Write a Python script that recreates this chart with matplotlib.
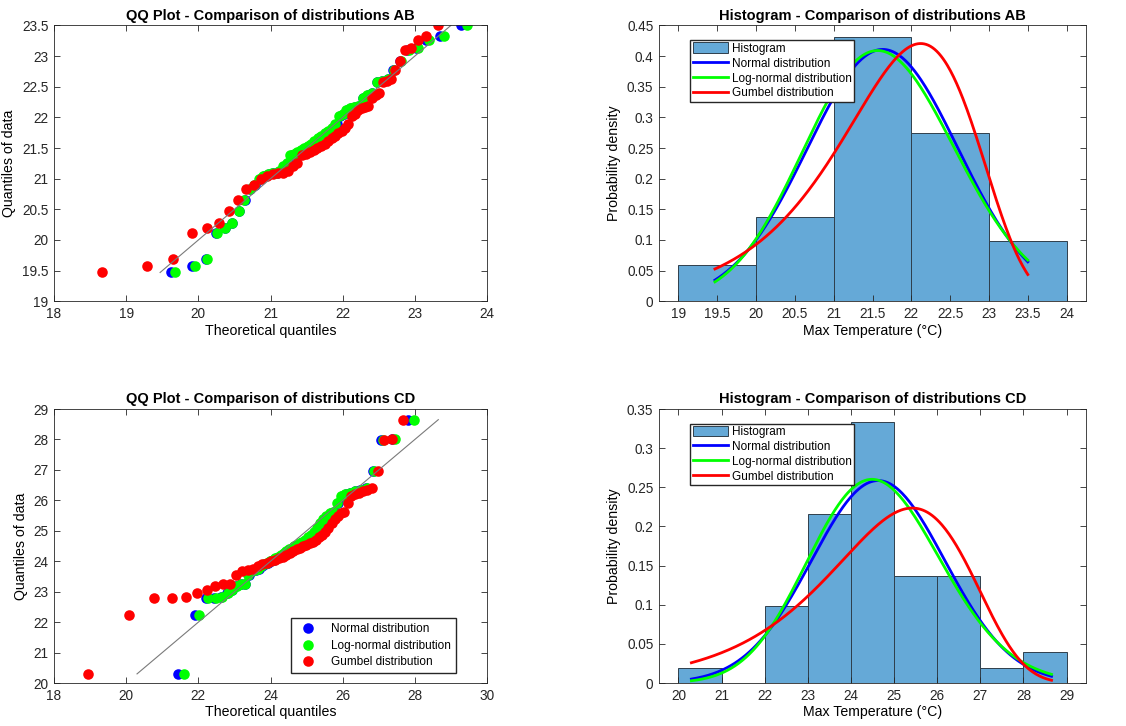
import math
import numpy as np
import matplotlib
matplotlib.use('Agg')
import matplotlib.pyplot as plt

plt.rcParams['font.family'] = ['Liberation Sans', 'DejaVu Sans']

# Max temperatures (sorted)
temp_ab = [19.47, 19.58, 19.69,
           20.11, 20.20, 20.28, 20.48, 20.66, 20.83, 20.90,
           21.00, 21.04, 21.07, 21.09, 21.10, 21.12, 21.20, 21.25, 21.38, 21.40, 21.43,
           21.46, 21.50, 21.53, 21.57, 21.62, 21.66, 21.70, 21.74, 21.78, 21.83, 21.90,
           22.03, 22.05, 22.12, 22.15, 22.17, 22.18, 22.32, 22.36, 22.40, 22.57, 22.60,
           22.63, 22.78, 22.92,
           23.10, 23.13, 23.27, 23.32, 23.50]
temp_cd = [20.30,
           22.23, 22.78, 22.80, 22.82, 22.95,
           23.04, 23.18, 23.25, 23.26, 23.55, 23.68, 23.72, 23.73, 23.85, 23.90, 23.95,
           24.00, 24.05, 24.10, 24.15, 24.20, 24.28, 24.35, 24.40, 24.45, 24.50, 24.55,
           24.60, 24.62, 24.70, 24.80, 24.85, 24.95,
           25.10, 25.25, 25.40, 25.50, 25.60, 25.62, 25.90,
           26.15, 26.20, 26.25, 26.30, 26.35, 26.40, 26.95,
           27.97,
           28.02, 28.65]

# histogram bin edges
edges_ab = [19, 20, 21, 22, 23, 24]
edges_cd = [20, 21, 22, 23, 24, 25, 26, 27, 28, 29]

# Gumbel (minimum extreme value) parameters: location, scale
gumbel_ab = (22.12, 0.875)
gumbel_cd = (25.42, 1.646)

names = ['Normal distribution', 'Log-normal distribution', 'Gumbel distribution']
colors = ['#0000ff', '#00ff00', '#ff0000']
hist_color = '#65a9d7'
dark = '#262626'


def norm_cdf(z):
    return np.array([0.5 * (1 + math.erf(v / math.sqrt(2))) for v in np.atleast_1d(z)])


_zg = np.linspace(-8, 8, 20001)
_cg = norm_cdf(_zg)


def norm_ppf(p):
    return np.interp(p, _cg, _zg)


def norm_pdf(x, mu, s):
    return np.exp(-0.5 * ((x - mu) / s) ** 2) / (s * np.sqrt(2 * np.pi))


def fits(data, gum):
    d = np.array(data)
    mu, s = d.mean(), d.std(ddof=1)
    lmu, ls = np.log(d).mean(), np.log(d).std(ddof=1)
    return mu, s, lmu, ls, gum


def qq(ax, data, gum, title, yticks, xlim, ylim, legend=False):
    d = np.sort(np.array(data))
    n = len(d)
    p = np.arange(1, n + 1) / (n + 1)
    mu, s, lmu, ls, (gl, gs) = fits(d, gum)
    z = norm_ppf(p)
    theo = [mu + s * z, np.exp(lmu + ls * z), gl + gs * np.log(-np.log(1 - p))]
    for t, c, nm in zip(theo, colors, names):
        ax.plot(t, d, 'o', color=c, markersize=7.6, markeredgewidth=0, label=nm)
    ax.plot([d[0], d[-1]], [d[0], d[-1]], color='#7a7a7a', lw=0.8)
    ax.set_xlim(xlim)
    ax.set_ylim(ylim)
    ax.set_yticks(yticks)
    ax.set_yticklabels(['%g' % v for v in yticks])
    ax.set_title(title, fontsize=10.5, fontweight='bold', pad=4)
    ax.set_xlabel('Theoretical quantiles', fontsize=10.2, labelpad=2)
    ax.set_ylabel('Quantiles of data', fontsize=10.2, labelpad=4)
    if legend:
        ax.legend(loc='lower right', bbox_to_anchor=(0.928, 0.036), fontsize=8.5,
                  fancybox=False, edgecolor=dark, framealpha=1, borderpad=0.4,
                  labelspacing=0.4, handletextpad=1.0, handlelength=2.0,
                  borderaxespad=0)


def hist(ax, data, edges, gum, title, xlim, ylim, yticks):
    d = np.array(data)
    ax.hist(d, bins=edges, density=True, color=hist_color, edgecolor='#2f3f4c',
            linewidth=0.7, label='Histogram')
    mu, s, lmu, ls, (gl, gs) = fits(d, gum)
    x = np.linspace(d.min(), d.max(), 300)
    ys = [norm_pdf(x, mu, s),
          norm_pdf(np.log(x), lmu, ls) / x,
          np.exp((x - gl) / gs - np.exp((x - gl) / gs)) / gs]
    for y, c, nm in zip(ys, colors, names):
        ax.plot(x, y, color=c, lw=2, label=nm)
    ax.set_xlim(xlim)
    ax.set_ylim(ylim)
    step = 0.5 if len(edges) < 7 else 1
    ax.set_xticks(np.arange(edges[0], edges[-1] + 0.01, step))
    ax.set_yticks(yticks)
    ax.set_xticklabels(['%g' % v for v in ax.get_xticks()])
    ax.set_yticklabels(['%g' % v for v in yticks])
    ax.set_title(title, fontsize=10.5, fontweight='bold', pad=4)
    ax.set_xlabel('Max Temperature (°C)', fontsize=10.2, labelpad=2)
    ax.set_ylabel('Probability density', fontsize=10.2, labelpad=4)
    ax.legend(loc='upper left', bbox_to_anchor=(0.073, 0.947), fontsize=8.5,
              fancybox=False, edgecolor=dark, framealpha=1, borderpad=0.2,
              labelspacing=0.22, handletextpad=0.3, handlelength=3.0,
              handleheight=1.0, borderaxespad=0)


fig = plt.figure(figsize=(11.26, 7.26), dpi=100)
ax1 = fig.add_axes([0.048, 0.585, 0.3845, 0.380])
ax2 = fig.add_axes([0.5853, 0.585, 0.3792, 0.380])
ax3 = fig.add_axes([0.048, 0.0592, 0.3845, 0.3774])
ax4 = fig.add_axes([0.5853, 0.0592, 0.3792, 0.3774])

qq(ax1, temp_ab, gumbel_ab, 'QQ Plot - Comparison of distributions AB',
   np.arange(19, 23.51, 0.5), (18, 24), (19, 23.5))
hist(ax2, temp_ab, edges_ab, gumbel_ab, 'Histogram - Comparison of distributions AB',
     (18.75, 24.25), (0, 0.45), np.arange(0, 0.451, 0.05))
qq(ax3, temp_cd, gumbel_cd, 'QQ Plot - Comparison of distributions CD',
   np.arange(20, 29.1, 1), (18, 30), (20, 29), legend=True)
ax3.set_xticks(np.arange(18, 30.1, 2))
hist(ax4, temp_cd, edges_cd, gumbel_cd, 'Histogram - Comparison of distributions CD',
     (19.55, 29.45), (0, 0.35), np.arange(0, 0.351, 0.05))

for ax in (ax1, ax2, ax3, ax4):
    for sp in ax.spines.values():
        sp.set_color(dark)
        sp.set_linewidth(0.6)
    ax.tick_params(direction='in', top=True, right=True, length=4, width=0.6,
                   color=dark, labelcolor=dark, labelsize=9.8, pad=4)

fig.savefig('out.png', dpi=100)
